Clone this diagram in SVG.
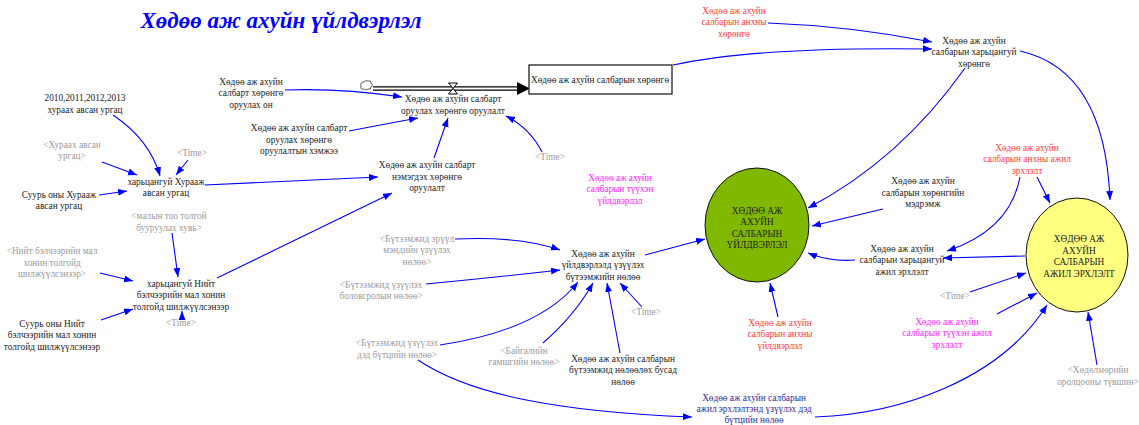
<svg xmlns="http://www.w3.org/2000/svg" width="1139" height="425" viewBox="0 0 1139 425">
<defs>
<marker id="ah" markerUnits="userSpaceOnUse" markerWidth="10" markerHeight="8" refX="9" refY="3.5" orient="auto">
<path d="M0,0 L9,3.5 L0,7 z" fill="#0000ff"/>
</marker>
</defs>
<style>
text{font-family:"Liberation Serif","Times New Roman",serif;font-size:9.3px;text-anchor:middle;fill:#222}
.g{fill:#9a9a9a}
.r{fill:#ff3c3c}
.m{fill:#ff22ff}
.n{fill:#2a2a9a}
.title{font-size:23px;font-weight:bold;font-style:italic;fill:#0000ff}
.c path{fill:none;stroke:#0000ff;stroke-width:1.1;marker-end:url(#ah)}
</style>
<rect width="1139" height="425" fill="#fff"/>
<text class="title" x="281" y="28">Хөдөө аж ахуйн үйлдвэрлэл</text>

<g id="connectors" class="c">
<path d="M113,115 Q150,140 160,176"/>
<path d="M102,162 L137,175"/>
<path d="M188,160 L176,175"/>
<path d="M99,195 L127,191"/>
<path d="M205,185 L378,177"/>
<path d="M172,233 L178,277"/>
<path d="M100,273 L133,281"/>
<path d="M101,320 L133,309"/>
<path d="M182,319 L182,311"/>
<path d="M217,278 L392,193"/>
<path d="M285,90 Q340,88 402,97"/>
<path d="M349,131 Q380,125 418,118"/>
<path d="M434,158 L448,118"/>
<path d="M542,152 Q530,128 506,116"/>
<path d="M673,65 C720,55 800,47 932,49"/>
<path d="M768,23 Q850,26 932,42"/>
<path d="M965,68 Q900,160 808,208"/>
<path d="M1020,51 Q1105,70 1110,200"/>
<path d="M883,209 Q845,218 812,226"/>
<path d="M855,260 Q830,262 808,253"/>
<path d="M1020,177 Q1010,230 947,251"/>
<path d="M1037,177 L1050,203"/>
<path d="M1025,256 L943,258"/>
<path d="M970,292 L1026,273"/>
<path d="M997,314 L1037,293"/>
<path d="M815,417 C900,414 1000,380 1047,305"/>
<path d="M1097,365 L1088,312"/>
<path d="M778,317 L770,283"/>
<path d="M645,255 L705,239"/>
<path d="M455,239 Q520,236 560,250"/>
<path d="M426,284 Q490,278 560,270"/>
<path d="M440,345 Q540,330 578,282"/>
<path d="M543,343 Q575,315 593,283"/>
<path d="M620,353 L607,283"/>
<path d="M642,307 L620,283"/>
<path d="M418,360 C470,395 560,412 692,417"/>
</g>

<g id="flow">
<path d="M373,88.5 H519" stroke="#000" stroke-width="4.5" fill="none"/>
<path d="M373,88.5 H519" stroke="#fff" stroke-width="2" fill="none"/>
<path d="M517,82 L530,88.5 L517,95 z" fill="#000"/>
<path d="M448.5,83 H457.5 L448.5,94 H457.5 Z" fill="#fff" stroke="#000" stroke-width="1"/>
<path d="M361,86 q-1,-4 3,-4 q1,-2 4,-1 q3,-1 3,2 q3,2 0,4 q0,3 -3,2 q-2,2 -4,0 q-4,1 -3,-3 z" fill="#fff" stroke="#333" stroke-width="0.8"/>
</g>

<g id="stock">
<rect x="529" y="65" width="143" height="29" fill="#fff" stroke="#222" stroke-width="1.3"/>
<text x="600" y="83">Хөдөө аж ахуйн салбарын хөрөнгө</text>
</g>

<g id="n-years"><text x="85" y="101">2010,2011,2012,2013<tspan x="85" dy="11.5">хураах авсан ургац</tspan></text></g>
<g id="n-year-inv"><text x="251" y="85">Хөдөө аж ахуйн<tspan x="251" dy="11.3">салбарт хөрөнгө</tspan><tspan x="251" dy="11.3">оруулах он</tspan></text></g>
<g id="n-inv-size"><text x="299" y="131">Хөдөө аж ахуйн салбарт<tspan x="299" dy="11.5">оруулах хөрөнгө</tspan><tspan x="299" dy="11.5">оруулалтын хэмжээ</tspan></text></g>
<g id="n-inv"><text x="453" y="102">Хөдөө аж ахуйн салбарт<tspan x="453" dy="11.5">оруулах хөрөнгө оруулалт</tspan></text></g>
<g id="n-init-asset"><text class="r" x="734" y="14">Хөдөө аж ахуйн<tspan x="734" dy="11.3">салбарын анхны</tspan><tspan x="734" dy="11.3">хөрөнгө</tspan></text></g>
<g id="n-rel-asset"><text x="974" y="44">Хөдөө аж ахуйн<tspan x="974" dy="11.3">салбарын харьцангуй</tspan><tspan x="974" dy="11.3">хөрөнгө</tspan></text></g>
<g id="n-time1"><text class="g" x="550" y="160">&lt;Time&gt;</text></g>
<g id="n-add-inv"><text x="427" y="168">Хөдөө аж ахуйн салбарт<tspan x="427" dy="11.5">нэмэгдэх хөрөнгө</tspan><tspan x="427" dy="11.5">оруулалт</tspan></text></g>
<g id="n-harvest"><text class="g" x="72" y="148">&lt;Хураах авсан<tspan x="72" dy="11.3">ургац&gt;</tspan></text></g>
<g id="n-time2"><text class="g" x="192" y="156">&lt;Time&gt;</text></g>
<g id="n-rel-harvest"><text x="166" y="185">харьцангуй Хурааж<tspan x="166" dy="11.3">авсан ургац</tspan></text></g>
<g id="n-base-harvest"><text x="59" y="198">Суурь оны Хурааж<tspan x="59" dy="11.3">авсан ургац</tspan></text></g>
<g id="n-reduce"><text class="g" x="169" y="219">&lt;малын тоо толгой<tspan x="169" dy="11.5">бууруулах хувь&gt;</tspan></text></g>
<g id="n-pasture"><text class="g" x="52" y="254">&lt;Нийт бэлчээрийн мал<tspan x="52" dy="11.5">хонин толгойд</tspan><tspan x="52" dy="11.5">шилжүүлсэнээр&gt;</tspan></text></g>
<g id="n-rel-pasture"><text x="181" y="287">харьцангуй Нийт<tspan x="181" dy="11.3">бэлчээрийн мал хонин</tspan><tspan x="181" dy="11.3">толгойд шилжүүлсэнээр</tspan></text></g>
<g id="n-time3"><text class="g" x="181" y="326">&lt;Time&gt;</text></g>
<g id="n-base-pasture"><text x="52" y="327">Суурь оны Нийт<tspan x="52" dy="11.3">бэлчээрийн мал хонин</tspan><tspan x="52" dy="11.3">толгойд шилжүүлсэнээр</tspan></text></g>
<g id="n-health"><text class="g" x="417" y="242">&lt;Бүтээмжид эрүүл<tspan x="417" dy="11.3">мэндийн үзүүлэх</tspan><tspan x="417" dy="11.3">нөлөө&gt;</tspan></text></g>
<g id="n-edu"><text class="g" x="381" y="288">&lt;Бүтээмжид үзүүлэх<tspan x="381" dy="11.3">боловсролын нөлөө&gt;</tspan></text></g>
<g id="n-infra"><text class="g" x="397" y="346">&lt;Бүтээмжид үзүүлэх<tspan x="397" dy="11.5">дэд бүтцийн нөлөө&gt;</tspan></text></g>
<g id="n-disaster"><text class="g" x="524" y="354">&lt;Байгалийн<tspan x="524" dy="11.3">гамшгийн нөлөө&gt;</tspan></text></g>
<g id="n-prod-eff"><text x="603" y="257">Хөдөө аж ахуйн<tspan x="603" dy="11.3">үйлдвэрлэлд үзүүлэх</tspan><tspan x="603" dy="11.3">бүтээмжийн нөлөө</tspan></text></g>
<g id="n-time4"><text class="g" x="646" y="315">&lt;Time&gt;</text></g>
<g id="n-other"><text x="623" y="362">Хөдөө аж ахуйн салбарын<tspan x="623" dy="11.3">бүтээмжид нөлөөлөх бусад</tspan><tspan x="623" dy="11.3">нөлөө</tspan></text></g>
<g id="n-hist-prod"><text class="m" x="620" y="181">Хөдөө аж ахуйн<tspan x="620" dy="11.3">салбарын түүхэн</tspan><tspan x="620" dy="11.3">үйлдвэрлэл</tspan></text></g>
<g id="n-production">
<ellipse cx="757" cy="225" rx="52" ry="57" fill="#80b800" stroke="#111" stroke-width="1"/>
<text x="757" y="214">ХӨДӨӨ АЖ<tspan x="757" dy="11.4">АХУЙН</tspan><tspan x="757" dy="11.4">САЛБАРЫН</tspan><tspan x="757" dy="11.4">ҮЙЛДВЭРЛЭЛ</tspan></text>
</g>
<g id="n-init-prod"><text class="r" x="780" y="326">Хөдөө аж ахуйн<tspan x="780" dy="11.3">салбарын анхны</tspan><tspan x="780" dy="11.3">үйлдвэрлэл</tspan></text></g>
<g id="n-emp-infra"><text class="n" x="754" y="401">Хөдөө аж ахуйн салбарын<tspan x="754" dy="11">ажил эрхлэлтэнд үзүүлэх дэд</tspan><tspan x="754" dy="11">бүтцийн нөлөө</tspan></text></g>
<g id="n-employment">
<ellipse cx="1077" cy="255" rx="51" ry="57" fill="#ffff80" stroke="#111" stroke-width="1"/>
<text x="1079" y="242">ХӨДӨӨ АЖ<tspan x="1079" dy="11.5">АХУЙН</tspan><tspan x="1079" dy="11.5">САЛБАРЫН</tspan><tspan x="1079" dy="11.5">АЖИЛ ЭРХЛЭЛТ</tspan></text>
</g>
<g id="n-init-emp"><text class="r" x="1027" y="151">Хөдөө аж ахуйн<tspan x="1027" dy="11.3">салбарын анхны ажил</tspan><tspan x="1027" dy="11.3">эрхлэлт</tspan></text></g>
<g id="n-sens"><text x="923" y="184">Хөдөө аж ахуйн<tspan x="923" dy="11.5">салбарын хөрөнгийн</tspan><tspan x="923" dy="11.5">мэдрэмж</tspan></text></g>
<g id="n-rel-emp"><text x="902" y="252">Хөдөө аж ахуйн<tspan x="902" dy="11.3">салбарын харьцангуй</tspan><tspan x="902" dy="11.3">ажил эрхлэлт</tspan></text></g>
<g id="n-time5"><text class="g" x="955" y="299">&lt;Time&gt;</text></g>
<g id="n-hist-emp"><text class="m" x="947" y="325">Хөдөө аж ахуйн<tspan x="947" dy="11.3">салбарын түүхэн ажил</tspan><tspan x="947" dy="11.3">эрхлэлт</tspan></text></g>
<g id="n-labor"><text class="g" x="1098" y="373">&lt;Хөдөлмөрийн<tspan x="1098" dy="11.5">оролцооны түвшин&gt;</tspan></text></g>
</svg>
